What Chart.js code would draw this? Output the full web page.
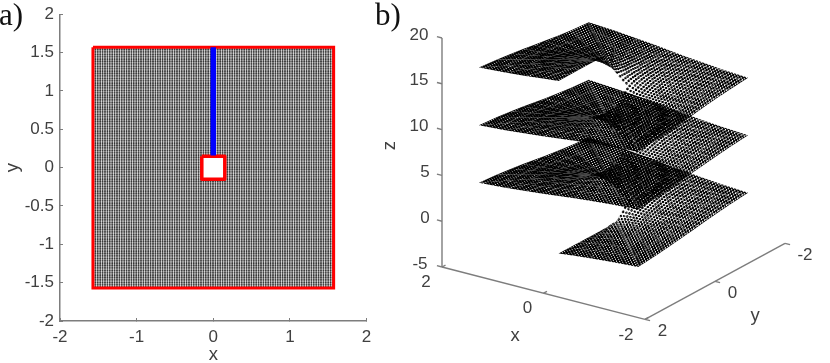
<!DOCTYPE html>
<html><head><meta charset="utf-8">
<style>html,body{margin:0;padding:0;background:#fff;width:830px;height:363px;overflow:hidden}
canvas{position:absolute;top:0}</style>
<script src="https://cdn.jsdelivr.net/npm/chart.js@4/dist/chart.umd.js"></script>
</head><body>
<canvas id="a" width="415" height="363" style="left:0;width:415px;height:363px"></canvas>
<canvas id="b" width="460" height="363" style="left:370px;width:460px;height:363px"></canvas>
<script>
// Panel a
const ticksA = [-2,-1,0,1,2];
const ticksAY = [-2,-1.5,-1,-0.5,0,0.5,1,1.5,2];
const outerX = [-1.57,1.57,1.57,-1.57,-1.57];
const outerY = [1.57,1.57,-1.57,-1.57,1.57];
const holeX = [-0.15,0.15,0.15,-0.15,-0.15];
const holeY = [0.15,0.15,-0.15,-0.15,0.15];
const cutX = [0,0];
const cutY = [1.57,0.16];
// Panel b: stations round the surface (outer edge of each ray), and surface height at each station
const rayX = [0,-0.31,-0.65,-1.05,-1.57,-1.57,-1.57,-1.57,-1.57,-1.57,-1.57,-1.57,-1.57,-1.05,-0.65,-0.31,0,0.31,0.65,1.05,1.57,1.57,1.57,1.57,1.57,1.57,1.57,1.57,1.57,1.05,0.65,0.31,0];
const rayY = [1.57,1.57,1.57,1.57,1.57,1.05,0.65,0.31,0,-0.31,-0.65,-1.05,-1.57,-1.57,-1.57,-1.57,-1.57,-1.57,-1.57,-1.57,-1.57,-1.05,-0.65,-0.31,0,0.31,0.65,1.05,1.57,1.57,1.57,1.57,1.57];
const ringScale = [1,0.8,0.62,0.47,0.35,0.25,0.17,0.1];
const lowerZ = [-1.57,-1.37,-1.18,-0.98,-0.79,-0.59,-0.39,-0.20,0,0.20,0.39,0.59,0.79,0.98,1.18,1.37,1.57,1.77,1.96,2.16,2.36,2.55,2.75,2.95,3.14,3.34,3.53,3.73,3.93,4.12,4.32,4.52,4.71];
const middleZ = [4.71,4.91,5.10,5.30,5.49,5.69,5.89,6.08,6.28,6.48,6.67,6.87,7.07,7.26,7.46,7.65,7.85,8.05,8.24,8.44,8.64,8.83,9.03,9.23,9.42,9.62,9.81,10.01,10.21,10.40,10.60,10.80,10.99];
const upperZ = [11.00,11.20,11.39,11.59,11.78,11.98,12.18,12.37,12.57,12.77,12.96,13.16,13.36,13.55,13.75,13.94,14.14,14.34,14.53,14.73,14.93,15.12,15.32,15.52,15.71,15.91,16.10,16.30,16.50,16.69,16.89,17.09,17.28];
const xTicksB = [2,0,-2];
const yTicksB = [2,0,-2];
const zTicksB = [-5,0,5,10,15,20];

const GREY='#7d7d7d', TXT='#404040', FONT='"Liberation Sans", Arial, sans-serif';
const zip=(a,b)=>a.map((v,i)=>({x:v,y:b[i]}));
Chart.defaults.animation=false;
Chart.defaults.events=[];
Chart.defaults.plugins.legend.display=false;
Chart.defaults.plugins.tooltip.enabled=false;
Chart.defaults.font.family=FONT;

const panelLabel = t=>({id:'panel',afterDraw(c){const g=c.ctx;g.save();g.fillStyle='#111';g.font='31px "Liberation Serif", serif';g.textAlign='left';g.textBaseline='alphabetic';g.fillText(t.s,t.x,t.y);g.restore();}});

// ---- panel a
function meshPattern(ctx){
  const ch=ctx.chart; if(!ch.chartArea) return 'rgba(0,0,0,0)';
  if(ch.$mesh) return ch.$mesh;
  const T=12,p=2.4,cv=document.createElement('canvas');cv.width=cv.height=T;
  const g=cv.getContext('2d');g.fillStyle='#222';
  for(let i=0;i<=5;i++)for(let j=0;j<=5;j++){g.beginPath();g.arc(i*p,j*p,1.05,0,7);g.fill();}
  const pat=ch.ctx.createPattern(cv,'repeat');
  pat.setTransform(new DOMMatrix().translate(ch.scales.x.getPixelForValue(-1.57),ch.scales.y.getPixelForValue(1.57)));
  return ch.$mesh=pat;
}
const noPad=s=>{s.paddingTop=0;s.paddingBottom=0;s.paddingLeft=0;s.paddingRight=0;};
new Chart(document.getElementById('a'),{
  type:'scatter',
  data:{datasets:[
    {data:zip(cutX,cutY),showLine:true,borderColor:'#0000ff',borderWidth:5.5,pointRadius:0,order:1,borderCapStyle:'butt'},
    {data:zip(holeX,holeY),showLine:true,borderColor:'#ff0000',borderWidth:3.5,borderJoinStyle:'round',backgroundColor:'#fff',fill:'shape',pointRadius:0,order:2},
    {data:zip(outerX,outerY),showLine:true,borderColor:'#ff0000',borderWidth:3,borderJoinStyle:'miter',pointRadius:0,order:3,clip:false},
    {data:zip(outerX,outerY),showLine:true,borderWidth:0,backgroundColor:meshPattern,fill:'shape',pointRadius:0,order:4}
  ]},
  plugins:[panelLabel({s:'a)',x:-1,y:25})],
  options:{responsive:false,
    layout:{padding:{top:14.3,right:48.4,left:0,bottom:0}},
    scales:{
      x:{type:'linear',min:-2,max:2,afterFit:s=>{s.height=42;noPad(s);},afterBuildTicks:s=>{s.ticks=ticksA.map(v=>({value:v}));},
        grid:{drawOnChartArea:false,tickLength:-3,color:GREY,lineWidth:1},border:{color:GREY,width:1.5},
        ticks:{color:TXT,font:{size:17},padding:9,maxRotation:0,autoSkip:false,callback:v=>String(v)},
        title:{display:true,text:'x',color:TXT,font:{size:18.5},padding:{top:-1,bottom:-3}}},
      y:{type:'linear',min:-2,max:2,afterFit:s=>{s.width=60;noPad(s);},afterBuildTicks:s=>{s.ticks=ticksAY.map(v=>({value:v}));},
        grid:{drawOnChartArea:false,tickLength:-3,color:GREY,lineWidth:1},border:{color:GREY,width:1.5},
        ticks:{color:TXT,font:{size:17},padding:9,autoSkip:false,callback:v=>String(v)},
        title:{display:true,text:'y',color:TXT,font:{size:18.5},padding:{top:2,bottom:0}}}
    }}
});

// ---- panel b: view of the 3-D box on the page
const view={u0:613.5,ux:-50.75,uy:-35,v0:209.36,vx:-13.08,vy:19,vz:-9.16};
const pU=(x,y)=>view.u0+view.ux*x+view.uy*y;
const pV=(x,y,z)=>view.v0+view.vx*x+view.vy*y+view.vz*z;
const pt=(x,y,z)=>({x:pU(x,y),y:pV(x,y,z)});
const STEP=0.0628, DOT=1.22;

function sheetPattern(ctx){
  const ch=ctx.chart,ds=ctx.dataset; if(!ch.chartArea||!ds.patch) return 'rgba(0,0,0,0)';
  if(ds.$pat) return ds.$pat;
  const c=ds.patch, sx=ch.scales.x, sy=ch.scales.y;
  const P=c.map(q=>({x:q.X,y:q.Y,u:sx.getPixelForValue(q.u),v:sy.getPixelForValue(q.v)}));
  const avg=(f,a,b,d,e)=>(f(P[b])-f(P[a])+f(P[e])-f(P[d]))/2;
  const X=q=>q.x,Y=q=>q.y,U=q=>q.u,V=q=>q.v;
  const e1=[avg(X,0,1,3,2),avg(Y,0,1,3,2)],d1=[avg(U,0,1,3,2),avg(V,0,1,3,2)];
  const e2=[avg(X,0,3,1,2),avg(Y,0,3,1,2)],d2=[avg(U,0,3,1,2),avg(V,0,3,1,2)];
  const det=e1[0]*e2[1]-e1[1]*e2[0]||1e-6;
  const A=[(d1[0]*e2[1]-d2[0]*e1[1])/det,(d2[0]*e1[0]-d1[0]*e2[0])/det,
           (d1[1]*e2[1]-d2[1]*e1[1])/det,(d2[1]*e1[0]-d1[1]*e2[0])/det];
  const cx=P.reduce((s,q)=>s+q.x,0)/4,cy=P.reduce((s,q)=>s+q.y,0)/4,cu=P.reduce((s,q)=>s+q.u,0)/4,cv=P.reduce((s,q)=>s+q.v,0)/4;
  const b0=cu-A[0]*cx-A[1]*cy,b1=cv-A[2]*cx-A[3]*cy;
  const T=6,k=STEP/T,L=[A[0]*k,A[1]*k,A[2]*k,A[3]*k];
  let dl=L[0]*L[3]-L[1]*L[2]; if(Math.abs(dl)<1e-5) dl=dl<0?-1e-5:1e-5;
  const can=document.createElement('canvas');can.width=can.height=T;
  const g=can.getContext('2d');g.fillStyle='#000';
  for(let i=-2;i<=2;i++)for(let j=-2;j<=2;j++){
    g.setTransform(L[3]/dl,-L[2]/dl,-L[1]/dl,L[0]/dl,i*T,j*T);
    g.beginPath();g.arc(0,0,DOT,0,7);g.fill();
  }
  const pat=ch.ctx.createPattern(can,'repeat');
  pat.setTransform(new DOMMatrix([L[0],L[2],L[1],L[3],b0,b1]));
  return ds.$pat=pat;
}
const sheetSets=[];
[lowerZ,middleZ,upperZ].forEach(zs=>{
  for(let i=0;i<rayX.length-1;i++)for(let r=0;r<ringScale.length-1;r++){
    const corner=(st,rg)=>{const X=rayX[st]*ringScale[rg],Y=rayY[st]*ringScale[rg],p=pt(X,Y,zs[st]);return {X,Y,u:p.x,v:p.y};};
    const c=[corner(i,r),corner(i+1,r),corner(i+1,r+1),corner(i,r+1)];
    sheetSets.push({patch:c,data:[...c,c[0]].map(q=>({x:q.u,y:q.v})),showLine:true,borderWidth:0,pointRadius:0,fill:'shape',backgroundColor:sheetPattern});
  }
});
const line3=(a,b)=>({data:[pt(...a),pt(...b)],showLine:true,borderColor:GREY,borderWidth:1.4,pointRadius:0,fill:false,clip:false});
const axisSets=[line3([2,2,-5],[2,2,20]),line3([2,2,-5],[-2,2,-5]),line3([-2,2,-5],[-2,-2,-5])];
zTicksB.forEach(z=>axisSets.push(line3([2,2,z],[2.1,2,z])));
xTicksB.forEach(x=>axisSets.push(line3([x,2,-5],[x,1.9,-5])));
yTicksB.forEach(y=>axisSets.push(line3([-2,y,-5],[-2.1,y,-5])));

const labels3={id:'labels3',afterDraw(c){
  const g=c.ctx,sx=c.scales.x,sy=c.scales.y;
  const put=(s,p,dx,dy,size,rot)=>{g.save();g.translate(sx.getPixelForValue(p.x)+dx,sy.getPixelForValue(p.y)+dy);if(rot)g.rotate(rot);g.font=size+'px '+FONT;g.fillStyle=TXT;g.textAlign='center';g.textBaseline='middle';g.fillText(s,0,0);g.restore();};
  zTicksB.forEach(z=>put(String(z),pt(2,2,z),z<0?-22:(z<10?-17:-23),-3,17));
  xTicksB.forEach(x=>put(String(x),pt(x,2,-5),x<0?-19:-16,15.5,17));
  yTicksB.forEach(y=>put(String(y),pt(-2,y,-5),y<0?20:17.5,12,17));
  put('z',pt(2,2,7.5),-52,-7,18.5,-Math.PI/2);
  put('x',pt(0,2,-5),-28.5,43,18.5);
  put('y',pt(-2,0,-5),40,35,18.5);
}};
new Chart(document.getElementById('b'),{
  type:'scatter',
  data:{datasets:[...axisSets,...sheetSets]},
  plugins:[labels3,panelLabel({s:'b)',x:5,y:25})],
  options:{responsive:false,layout:{padding:0},
    scales:{x:{type:'linear',display:false,min:370,max:830},y:{type:'linear',display:false,min:0,max:363,reverse:true}}}
});
</script></body></html>
